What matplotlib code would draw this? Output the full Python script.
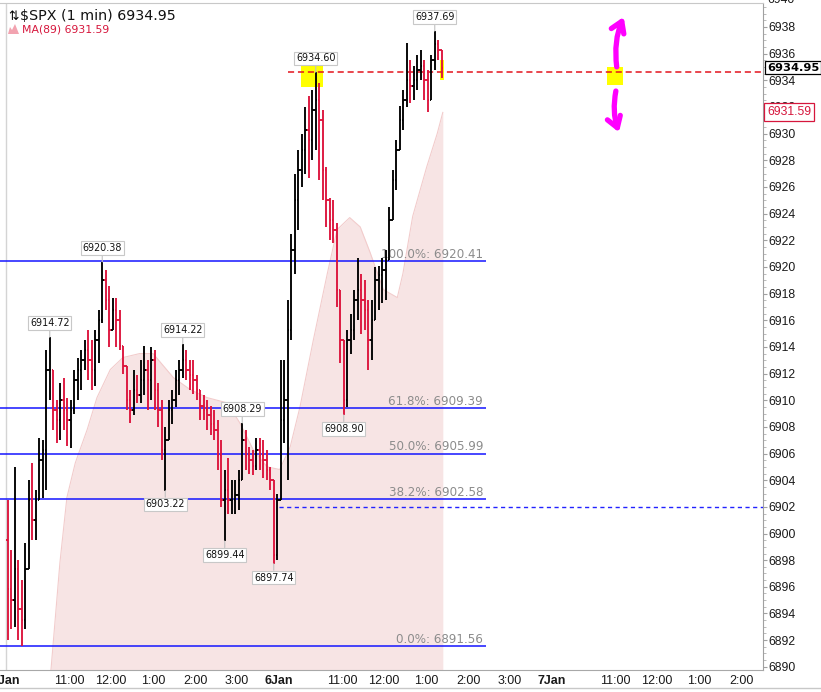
import numpy as np
import matplotlib
matplotlib.use('Agg')
import matplotlib.pyplot as plt
import matplotlib.transforms as mtransforms
from matplotlib.collections import LineCollection
from matplotlib.patches import FancyArrowPatch, Rectangle, Polygon
from matplotlib.lines import Line2D
from matplotlib.ticker import MultipleLocator

plt.rcParams['font.family'] = ['Liberation Sans', 'DejaVu Sans']

# ---------------- data ----------------
symbol_title = '$SPX (1 min) 6934.95'
ma_title = 'MA(89) 6931.59'
last_price = 6934.95
ma_last = 6931.59

bar_minutes = 5          # bars aggregated to 5 minutes, trading-time index from 5 Jan 9:30
first_open = 6899.5
bar_high = [6902.5, 6898.8, 6905.0, 6898.0, 6896.5, 6899.3, 6904.0, 6905.3, 6903.3, 6907.2,
            6907.0, 6913.8, 6914.72, 6912.3, 6910.0, 6911.3, 6911.7, 6910.2, 6910.0, 6912.3,
            6913.2, 6913.8, 6914.5, 6915.3, 6914.5, 6915.3, 6916.8, 6920.38, 6919.8, 6918.6,
            6917.7, 6917.7, 6916.8, 6914.0, 6912.3, 6910.8, 6912.3, 6911.9, 6913.0, 6914.1,
            6913.0, 6914.0, 6913.8, 6911.3, 6910.0, 6908.0, 6910.0, 6910.8, 6912.3, 6913.0,
            6914.22, 6913.8, 6913.0, 6913.0, 6911.9, 6910.8, 6910.4, 6910.0, 6909.6, 6909.3,
            6908.5, 6907.0, 6904.8, 6905.7, 6904.0, 6904.0, 6904.8, 6908.29, 6907.8, 6906.5,
            6906.3, 6907.2, 6907.2, 6907.0, 6906.3, 6905.0, 6904.0, 6903.0, 6913.0, 6913.0,
            6917.5, 6922.5, 6927.0, 6928.8, 6930.0, 6932.0, 6932.8, 6933.3, 6934.6, 6933.8,
            6931.8, 6927.5, 6925.2, 6925.0, 6923.3, 6917.5, 6914.5, 6915.3, 6916.5, 6918.3,
            6920.7, 6919.5, 6919.0, 6917.5, 6917.5, 6920.0, 6920.1, 6920.7, 6921.3, 6924.5,
            6927.3, 6929.5, 6932.1, 6933.3, 6936.8, 6935.5, 6935.1, 6935.9, 6936.3, 6935.5,
            6934.8, 6935.9, 6937.69, 6937.0, 6936.3]
bar_low = [6892.0, 6892.8, 6893.0, 6892.0, 6891.56, 6892.8, 6898.0, 6899.5, 6899.5, 6902.5,
           6902.7, 6903.3, 6910.0, 6907.8, 6906.8, 6907.0, 6907.8, 6906.6, 6906.4, 6909.0,
           6910.0, 6910.8, 6912.3, 6911.5, 6910.8, 6911.1, 6912.8, 6915.8, 6916.8, 6914.0,
           6915.3, 6914.0, 6913.8, 6912.0, 6909.3, 6908.3, 6908.9, 6909.8, 6909.8, 6910.4,
           6909.3, 6910.0, 6909.3, 6908.0, 6905.5, 6903.22, 6907.0, 6908.2, 6909.5, 6910.4,
           6911.7, 6911.5, 6910.8, 6910.5, 6910.0, 6908.5, 6908.5, 6907.8, 6907.4, 6907.0,
           6904.8, 6902.0, 6899.44, 6901.5, 6901.5, 6901.5, 6901.8, 6904.0, 6904.8, 6904.5,
           6904.4, 6904.8, 6904.8, 6904.2, 6904.0, 6903.3, 6897.74, 6898.0, 6902.5, 6906.8,
           6904.0, 6914.5, 6919.5, 6922.8, 6926.0, 6927.0, 6926.7, 6928.0, 6928.8, 6926.5,
           6925.0, 6923.0, 6922.0, 6921.8, 6917.0, 6912.8, 6908.90, 6909.5, 6913.5, 6914.5,
           6916.0, 6915.0, 6915.3, 6912.3, 6913.0, 6916.5, 6916.8, 6917.3, 6917.5, 6920.7,
           6923.5, 6925.8, 6928.8, 6930.3, 6932.0, 6932.3, 6932.5, 6933.3, 6934.0, 6932.5,
           6931.6, 6932.5, 6934.8, 6935.5, 6934.2]
bar_close = [6895.8, 6895.0, 6897.3, 6894.3, 6893.5, 6897.3, 6902.5, 6901.0, 6902.5, 6905.5,
             6906.3, 6912.3, 6912.3, 6909.3, 6908.5, 6910.0, 6909.3, 6908.5, 6909.3, 6911.5,
             6912.3, 6913.0, 6913.8, 6913.0, 6912.3, 6914.5, 6916.0, 6919.0, 6917.5, 6915.3,
             6916.8, 6916.0, 6914.1, 6912.6, 6910.0, 6909.3, 6910.8, 6910.4, 6911.5, 6912.3,
             6911.5, 6913.0, 6910.8, 6909.3, 6906.3, 6907.0, 6909.3, 6910.0, 6911.5, 6912.3,
             6913.0, 6912.3, 6911.9, 6911.5, 6910.8, 6909.6, 6909.3, 6908.9, 6908.2, 6907.8,
             6905.9, 6902.5, 6903.3, 6902.5, 6902.5, 6902.9, 6904.0, 6907.0, 6905.9, 6905.5,
             6905.1, 6906.3, 6905.9, 6905.5, 6904.8, 6904.0, 6898.4, 6902.5, 6908.5, 6910.0,
             6915.3, 6921.3, 6925.0, 6927.3, 6928.8, 6930.3, 6929.5, 6931.8, 6932.5, 6931.0,
             6927.3, 6925.0, 6923.5, 6922.8, 6918.3, 6914.5, 6910.0, 6914.5, 6915.3, 6917.5,
             6918.3, 6917.5, 6916.8, 6914.5, 6916.0, 6919.0, 6919.4, 6919.8, 6920.5, 6923.5,
             6926.5, 6928.8, 6931.0, 6932.5, 6934.0, 6933.6, 6934.0, 6934.8, 6935.1, 6934.0,
             6932.5, 6935.5, 6936.7, 6936.3, 6934.95]

ma_minute = [63, 67, 77, 87, 99, 116, 130, 149, 167, 191, 210, 239, 263, 287, 316, 334, 353,
             373, 391, 406, 420, 439, 459, 473, 491, 506, 520, 539, 559, 567, 581, 601, 616, 624]
ma_value = [6889.0, 6891.5, 6897.8, 6902.7, 6905.3, 6907.8, 6910.2, 6912.3, 6913.2, 6913.5,
            6913.5, 6911.7, 6910.8, 6910.2, 6909.8, 6908.3, 6906.3, 6905.0, 6904.8, 6906.5,
            6909.5, 6914.5, 6919.5, 6922.8, 6923.7, 6923.0, 6921.1, 6918.3, 6917.7, 6919.5,
            6923.8, 6927.5, 6930.0, 6931.59]

fib_pct = ['100.0%', '61.8%', '50.0%', '38.2%', '0.0%']
fib_level = [6920.41, 6909.39, 6905.99, 6902.58, 6891.56]

tick_minute = [0, 90, 150, 210, 270, 330, 390, 480, 540, 600, 660, 720, 780, 870, 930, 990, 1050]
tick_label = ['5Jan', '11:00', '12:00', '1:00', '2:00', '3:00', '6Jan', '11:00', '12:00', '1:00',
              '2:00', '3:00', '7Jan', '11:00', '12:00', '1:00', '2:00']

swing_bar = [12, 27, 45, 50, 62, 67, 76, 88, 96, 122]
swing_kind = ['high', 'high', 'low', 'high', 'low', 'high', 'low', 'high', 'low', 'high']

support_level = 6902.0
resistance_level = 6934.60

# ---------------- figure ----------------
W, H = 821, 692
fig = plt.figure(figsize=(W / 100, H / 100), dpi=100)
ax_px_w, ax_px_h = 763, 667
ax = fig.add_axes([0, 22 / H, ax_px_w / W, ax_px_h / H])
XMIN, XMAX = -8.57, 1081.4
ax.set_xlim(XMIN, XMAX)
ax.set_ylim(6889.76, 6939.80)

# MA(89) shaded area
ax.fill_between(ma_minute, 6880, ma_value, color='#f7e4e4', lw=0, zorder=0.5)
ax.plot(ma_minute, ma_value, color='#f2cccc', lw=0.8, zorder=0.6)

# Fibonacci levels
fib_end = 686
ax.hlines(fib_level, XMIN, fib_end, colors='#1515ff', lw=1.1, zorder=3)
txt_off = mtransforms.offset_copy(ax.transData, fig=fig, x=-3, y=3.5, units='dots')
for pct, lvl in zip(fib_pct, fib_level):
    ax.text(fib_end, lvl, f'{pct}: {lvl:.2f}', transform=txt_off, ha='right', va='baseline',
            fontsize=8.6, family='DejaVu Sans', color='#8c8c8c', zorder=3)

# support / resistance rays
ax.hlines(support_level, 390, XMAX, colors='#2222ff', lw=1.0, linestyles=(0, (3, 2.5)), zorder=3)
ax.hlines(resistance_level, 403, XMAX, colors='#e3141c', lw=1.1, linestyles=(0, (4, 2.5)), zorder=3)

# yellow highlight boxes
for (x0, y0, w, h) in [(421, 6933.5, 32, 1.6), (858, 6933.65, 23, 1.35), (620, 6934.0, 6, 1.5)]:
    ax.add_patch(Rectangle((x0, y0), w, h, color='#ffff00', lw=0, zorder=2))

# OHLC bars
n = len(bar_close)
t = np.arange(n) * bar_minutes + bar_minutes / 2
hi = np.array(bar_high); lo = np.array(bar_low); cl = np.array(bar_close)
op = np.r_[first_open, cl[:-1]]
top = np.maximum.reduce([hi, op, cl]); bot = np.minimum.reduce([lo, op, cl])
tw = 2.0
segs, cols = [], []
for i in range(n):
    c = '#000000' if cl[i] >= op[i] else '#dc143c'
    segs += [[(t[i], bot[i]), (t[i], top[i])],
             [(t[i] - tw, op[i]), (t[i], op[i])],
             [(t[i], cl[i]), (t[i] + tw, cl[i])]]
    cols += [c, c, c]
ax.add_collection(LineCollection(segs, colors=cols, linewidths=1.35, zorder=4))

# swing labels
for idx, kind in zip(swing_bar, swing_kind):
    val = bar_high[idx] if kind == 'high' else bar_low[idx]
    off = 10 if kind == 'high' else -10
    ax.annotate(f'{val:.2f}', xy=(t[idx], val), xytext=(0, off), textcoords='offset points',
                ha='center', va='center', fontsize=6.9, family='DejaVu Sans', color='#111111',
                bbox=dict(boxstyle='square,pad=0.2', fc='white', ec='#c8c8c8', lw=0.8),
                arrowprops=dict(arrowstyle='-', color='#c0c0c0', lw=0.8, shrinkA=0, shrinkB=0),
                zorder=6)

# magenta hand-drawn arrows
for pA, pB, rad in [((873, 6934.8), (884, 6938.95), -0.15), ((872, 6933.4), (877, 6929.9), 0.15)]:
    ax.add_patch(FancyArrowPatch(pA, pB, arrowstyle='->,head_length=0.55,head_width=0.35',
                                 mutation_scale=14, connectionstyle=f'arc3,rad={rad}',
                                 color='#ff00ff', lw=3.8, zorder=7))

# axes styling
ax.spines['left'].set_visible(False)
ax.spines['top'].set_color('#c8c8c8')
ax.spines['right'].set_color('#a0a0a0')
ax.spines['bottom'].set_color('#a8a8a8')
ax.axvline(0, color='#d4d4d4', lw=1, zorder=1)

ax.yaxis.tick_right()
ax.set_yticks(np.arange(6890, 6939, 2))
ax.yaxis.set_minor_locator(MultipleLocator(0.5))
ax.tick_params(axis='y', which='major', length=3, width=0.8, color='#a0a0a0', pad=1,
               labelsize=8.8, labelcolor='#1a1a1a')
ax.tick_params(axis='y', which='minor', length=2, width=0.6, color='#b0b0b0')
ax.set_xticks(tick_minute)
ax.set_xticklabels(tick_label)
ax.tick_params(axis='x', length=0, pad=3.5, labelsize=9, labelcolor='#1a1a1a')
for lab in ax.get_xticklabels():
    if lab.get_text().endswith('Jan'):
        lab.set_fontweight('bold')

trans = mtransforms.blended_transform_factory(ax.transAxes, ax.transData)
ax.text(1 + 4 / ax_px_w, 6940, '6940', transform=trans, ha='left', va='center', fontsize=8.8,
        color='#1a1a1a', clip_on=False)
ax.text(1 + 4 / ax_px_w, last_price, f'{last_price:.2f}', transform=trans, ha='left', va='center',
        fontsize=8.2, fontweight='bold', family='DejaVu Sans', color='black', clip_on=False, zorder=8,
        bbox=dict(boxstyle='square,pad=0.15', fc='white', ec='black', lw=0.9))
ax.text(1 + 4 / ax_px_w, ma_last, f'{ma_last:.2f}', transform=trans, ha='left', va='center',
        fontsize=8.8, color='#d6163c', clip_on=False, zorder=8,
        bbox=dict(boxstyle='square,pad=0.25', fc='white', ec='#d6163c', lw=0.9))

# header / legend
fig.text(8 / W, 1 - 16 / H, '⇅', fontsize=9, family='DejaVu Sans', va='center', ha='left')
fig.text(20 / W, 1 - 16 / H, symbol_title, fontsize=10.3, family='DejaVu Sans', va='center', ha='left',
         color='#111111')
icon = [(8, 34), (10, 27), (12, 30), (15, 24), (19, 34)]
fig.add_artist(Polygon([(x / W, 1 - y / H) for x, y in icon], closed=True, transform=fig.transFigure,
                       fc='#f2a3b0', ec='none'))
fig.text(22 / W, 1 - 30 / H, ma_title, fontsize=7.8, family='DejaVu Sans', va='center', ha='left',
         color='#d6163c')

fig.add_artist(Line2D([0, 1], [1 - 688 / H] * 2, transform=fig.transFigure, color='#c8c8c8', lw=1))

fig.savefig('out.png', dpi=100)
